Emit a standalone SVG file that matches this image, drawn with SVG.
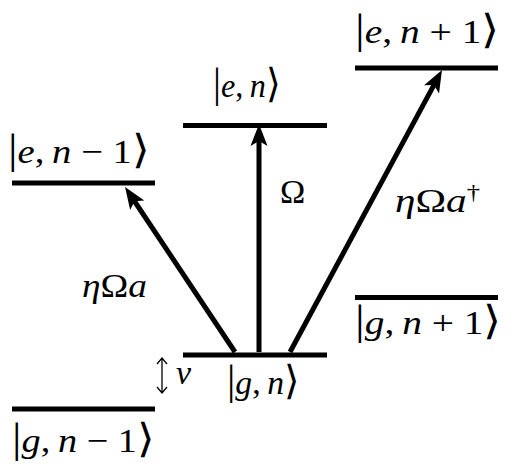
<svg xmlns="http://www.w3.org/2000/svg" width="529" height="473" viewBox="0 0 529 473">
<style>
.lvl{stroke:#000;stroke-width:5;fill:none}
.arr{stroke:#000;stroke-width:5;fill:none;marker-end:url(#head)}
text{font-family:'Liberation Serif','DejaVu Serif',serif;font-size:34px;fill:#000}
.i{font-style:italic}
.b{font-size:42px}
.k{font-size:40px;font-family:'DejaVu Sans',sans-serif;font-weight:200}
.thin{stroke:#000;stroke-width:1.3;fill:none}
</style>
<defs>
<marker id="head" markerUnits="userSpaceOnUse" viewBox="-12 -10 26 20" refX="0" refY="0" markerWidth="26" markerHeight="20" orient="auto" overflow="visible">
<path d="M12,0 L-10,-8.5 L-5,0 L-10,8.5 Z" fill="#000"/>
</marker>
</defs>
<rect width="529" height="473" fill="#fff"/>
<g id="e_nm1">
<line class="lvl" x1="12" y1="183" x2="155" y2="183"/>
<text x="8" y="163" textLength="142" lengthAdjust="spacingAndGlyphs"><tspan class="b">|</tspan><tspan class="i">e</tspan>,&#8201;<tspan class="i">n</tspan>&#8197;−&#8197;1<tspan class="k">⟩</tspan></text>
</g>
<g id="e_n">
<line class="lvl" x1="183" y1="125.5" x2="327" y2="125.5"/>
<text x="213" y="97" textLength="68" lengthAdjust="spacingAndGlyphs"><tspan class="b">|</tspan><tspan class="i">e</tspan>,&#8201;<tspan class="i">n</tspan><tspan class="k">⟩</tspan></text>
</g>
<g id="e_np1">
<line class="lvl" x1="355" y1="68" x2="498" y2="68"/>
<text x="355" y="43" textLength="145" lengthAdjust="spacingAndGlyphs"><tspan class="b">|</tspan><tspan class="i">e</tspan>,&#8201;<tspan class="i">n</tspan>&#8197;+&#8197;1<tspan class="k">⟩</tspan></text>
</g>
<g id="g_np1">
<line class="lvl" x1="355" y1="297.5" x2="498" y2="297.5"/>
<text x="355" y="334" textLength="147" lengthAdjust="spacingAndGlyphs"><tspan class="b">|</tspan><tspan class="i">g</tspan>,&#8201;<tspan class="i">n</tspan>&#8197;+&#8197;1<tspan class="k">⟩</tspan></text>
</g>
<g id="g_n">
<line class="lvl" x1="183" y1="355" x2="327" y2="355"/>
<text x="227" y="394" textLength="73" lengthAdjust="spacingAndGlyphs"><tspan class="b">|</tspan><tspan class="i">g</tspan>,&#8201;<tspan class="i">n</tspan><tspan class="k">⟩</tspan></text>
</g>
<g id="g_nm1">
<line class="lvl" x1="12" y1="409" x2="155" y2="409"/>
<text x="12" y="452" textLength="143" lengthAdjust="spacingAndGlyphs"><tspan class="b">|</tspan><tspan class="i">g</tspan>,&#8201;<tspan class="i">n</tspan>&#8197;−&#8197;1<tspan class="k">⟩</tspan></text>
</g>
<g id="connectors">
<line class="arr" x1="235" y1="352" x2="131.7" y2="197"/>
<line class="arr" x1="259" y1="352" x2="259" y2="136"/>
<line class="arr" x1="290" y1="352" x2="436.3" y2="80.6"/>
<path class="thin" d="M162,358 V393 M157,364 L162,358 L167,364 M157,387 L162,393 L167,387"/>
</g>
<g id="labels">
<text class="i" x="82" y="297" font-size="30" textLength="65" lengthAdjust="spacingAndGlyphs">η<tspan font-style="normal">Ω</tspan>a</text>
<text x="280" y="203">Ω</text>
<text class="i" x="395" y="212" font-size="30" textLength="85" lengthAdjust="spacingAndGlyphs">η<tspan font-style="normal">Ω</tspan>a<tspan font-style="normal" font-size="22" dy="-13">†</tspan></text>
<text class="i" x="176" y="384" font-size="36">ν</text>
</g>
</svg>
